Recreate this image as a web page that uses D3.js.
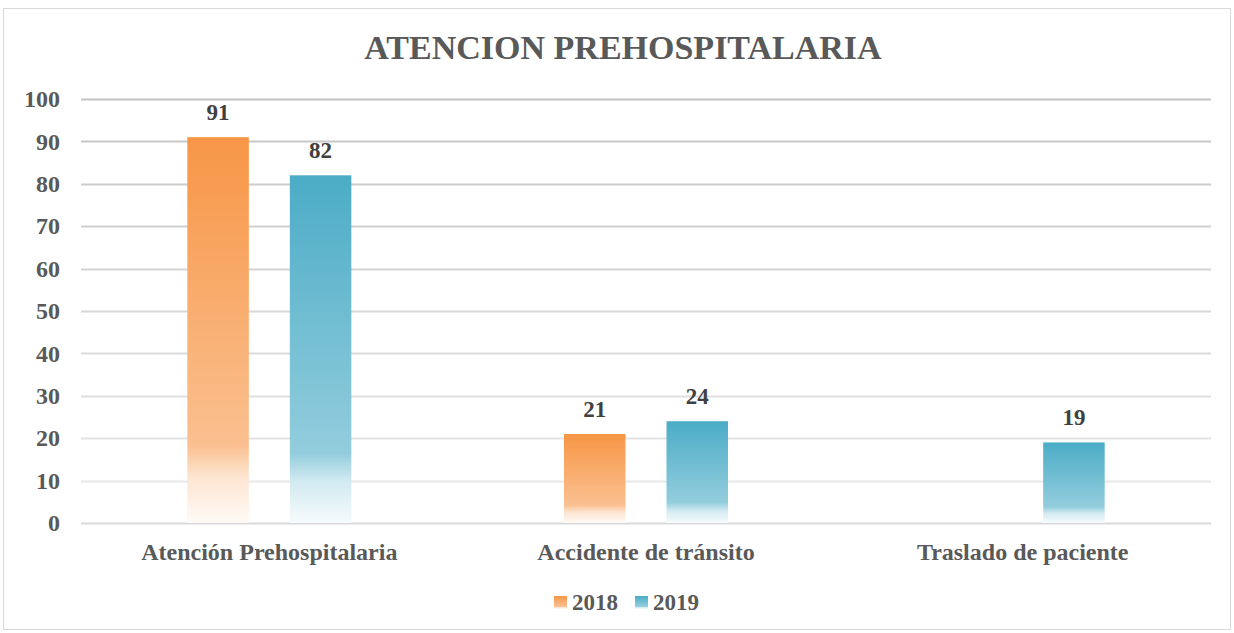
<!DOCTYPE html>
<html>
<head>
	<title>Atencion Prehospitalaria</title>
	<style type="text/css">
		body { margin: 0; background: #fff; }
		.chart text { font-family: 'Liberation Serif', 'Times New Roman', serif; font-weight: bold; }
	</style>
</head>
<body>
	<svg width=1234 height=633 class="chart"></svg>
	<script type="text/javascript" src="https://cdn.jsdelivr.net/npm/d3@7/dist/d3.min.js"></script>
	<script type="text/javascript">

		categories = ['Atención Prehospitalaria', 'Accidente de tránsito', 'Traslado de paciente']
		years = ['2018', '2019']
		values2018 = [91, 21, null]
		values2019 = [82, 24, 19]
		yTicks = [0, 10, 20, 30, 40, 50, 60, 70, 80, 90, 100]
		colors = {'2018': '#F79646', '2019': '#4BACC6'}

		margin = {'top': 99, 'right': 23, 'bottom': 110, 'left': 81}
		svg = d3.select('.chart')
		width = +svg.attr('width')
		height = +svg.attr('height')
		plot_w = width - margin.left - margin.right
		plot_h = height - margin.top - margin.bottom

		// frame
		svg.append('rect')
			.attr('x', 3.5).attr('y', 8.5)
			.attr('width', width - 7).attr('height', height - 12)
			.attr('fill', '#fff')
			.attr('stroke', '#D9D9D9')

		// gradients, one per series
		defs = svg.append('defs')
		years.forEach(function(y){
			var g = defs.append('linearGradient')
				.attr('id', 'grad' + y)
				.attr('x1', 0).attr('y1', 0).attr('x2', 0).attr('y2', 1)
			var light = d3.interpolateRgb(colors[y], '#fff')
			g.append('stop').attr('offset', '0%').attr('stop-color', colors[y])
			g.append('stop').attr('offset', '80%').attr('stop-color', light(0.4))
			g.append('stop').attr('offset', '88%').attr('stop-color', light(0.75))
			g.append('stop').attr('offset', '100%').attr('stop-color', light(0.95))
		})

		svg.append('text')
			.attr('x', 623).attr('y', 59)
			.attr('text-anchor', 'middle')
			.attr('font-size', 34)
			.attr('fill', '#595959')
			.text('ATENCION PREHOSPITALARIA')

		g = svg.append('g').attr('transform', 'translate(' + margin.left + ',' + margin.top + ')')

		y = d3.scaleLinear().domain([0, 100]).range([plot_h, 0])
		x0 = d3.scaleBand().domain(categories).range([0, plot_w])
		x1 = d3.scaleBand().domain(years).range([x0.bandwidth() / 2 - 82, x0.bandwidth() / 2 + 82]).paddingInner(0.4)

		gridColor = d3.scaleLinear().domain([0, 100]).range(['#EBEBEB', '#C4C4C4'])

		g.append('g')
			.selectAll('line')
			.data(yTicks)
			.enter()
			.append('line')
			.attr('x1', 0).attr('x2', plot_w)
			.attr('y1', function(d){ return Math.round(y(d)) + 0.5 })
			.attr('y2', function(d){ return Math.round(y(d)) + 0.5 })
			.attr('stroke', function(d){ return d == 0 ? '#D9D9D9' : gridColor(d) })
			.attr('stroke-width', 2)

		yAxis = g.append('g')
			.attr('transform', 'translate(-21,0)')
			.call(d3.axisLeft(y).tickValues(yTicks).tickSize(0).tickPadding(0))
		yAxis.select('.domain').remove()
		yAxis.selectAll('text')
			.attr('font-size', 24)
			.attr('fill', '#595959')
			.attr('font-family', null)

		xAxis = g.append('g')
			.attr('transform', 'translate(0,' + (plot_h + 20) + ')')
			.call(d3.axisBottom(x0).tickSize(0).tickPadding(0))
		xAxis.select('.domain').remove()
		xAxis.selectAll('text')
			.attr('font-size', 24)
			.attr('fill', '#595959')
			.attr('font-family', null)

		rows = []
		categories.forEach(function(c, i){
			rows.push({'cat': c, 'year': '2018', 'value': values2018[i]})
			rows.push({'cat': c, 'year': '2019', 'value': values2019[i]})
		})
		rows = rows.filter(function(d){ return d.value != null })

		g.append('g')
			.selectAll('rect')
			.data(rows)
			.enter()
			.append('rect')
			.attr('x', function(d){ return x0(d.cat) + x1(d.year) })
			.attr('y', function(d){ return y(d.value) })
			.attr('width', x1.bandwidth())
			.attr('height', function(d){ return plot_h - y(d.value) })
			.attr('fill', function(d){ return 'url(#grad' + d.year + ')' })

		g.append('g')
			.selectAll('text')
			.data(rows)
			.enter()
			.append('text')
			.attr('x', function(d){ return x0(d.cat) + x1(d.year) + x1.bandwidth() / 2 })
			.attr('y', function(d){ return y(d.value) - 17 })
			.attr('text-anchor', 'middle')
			.attr('font-size', 23)
			.attr('fill', '#404040')
			.text(function(d){ return d.value })

		// legend
		legend = svg.append('g').attr('transform', 'translate(554,610)')
		years.forEach(function(yr, i){
			var lg = legend.append('g').attr('transform', 'translate(' + (i * 81) + ',0)')
			lg.append('rect')
				.attr('x', 0).attr('y', -14)
				.attr('width', 13).attr('height', 13)
				.attr('fill', 'url(#grad' + yr + ')')
			lg.append('text')
				.attr('x', 18).attr('y', 0)
				.attr('font-size', 23)
				.attr('fill', '#595959')
				.text(yr)
		})

	</script>
</body>
</html>
